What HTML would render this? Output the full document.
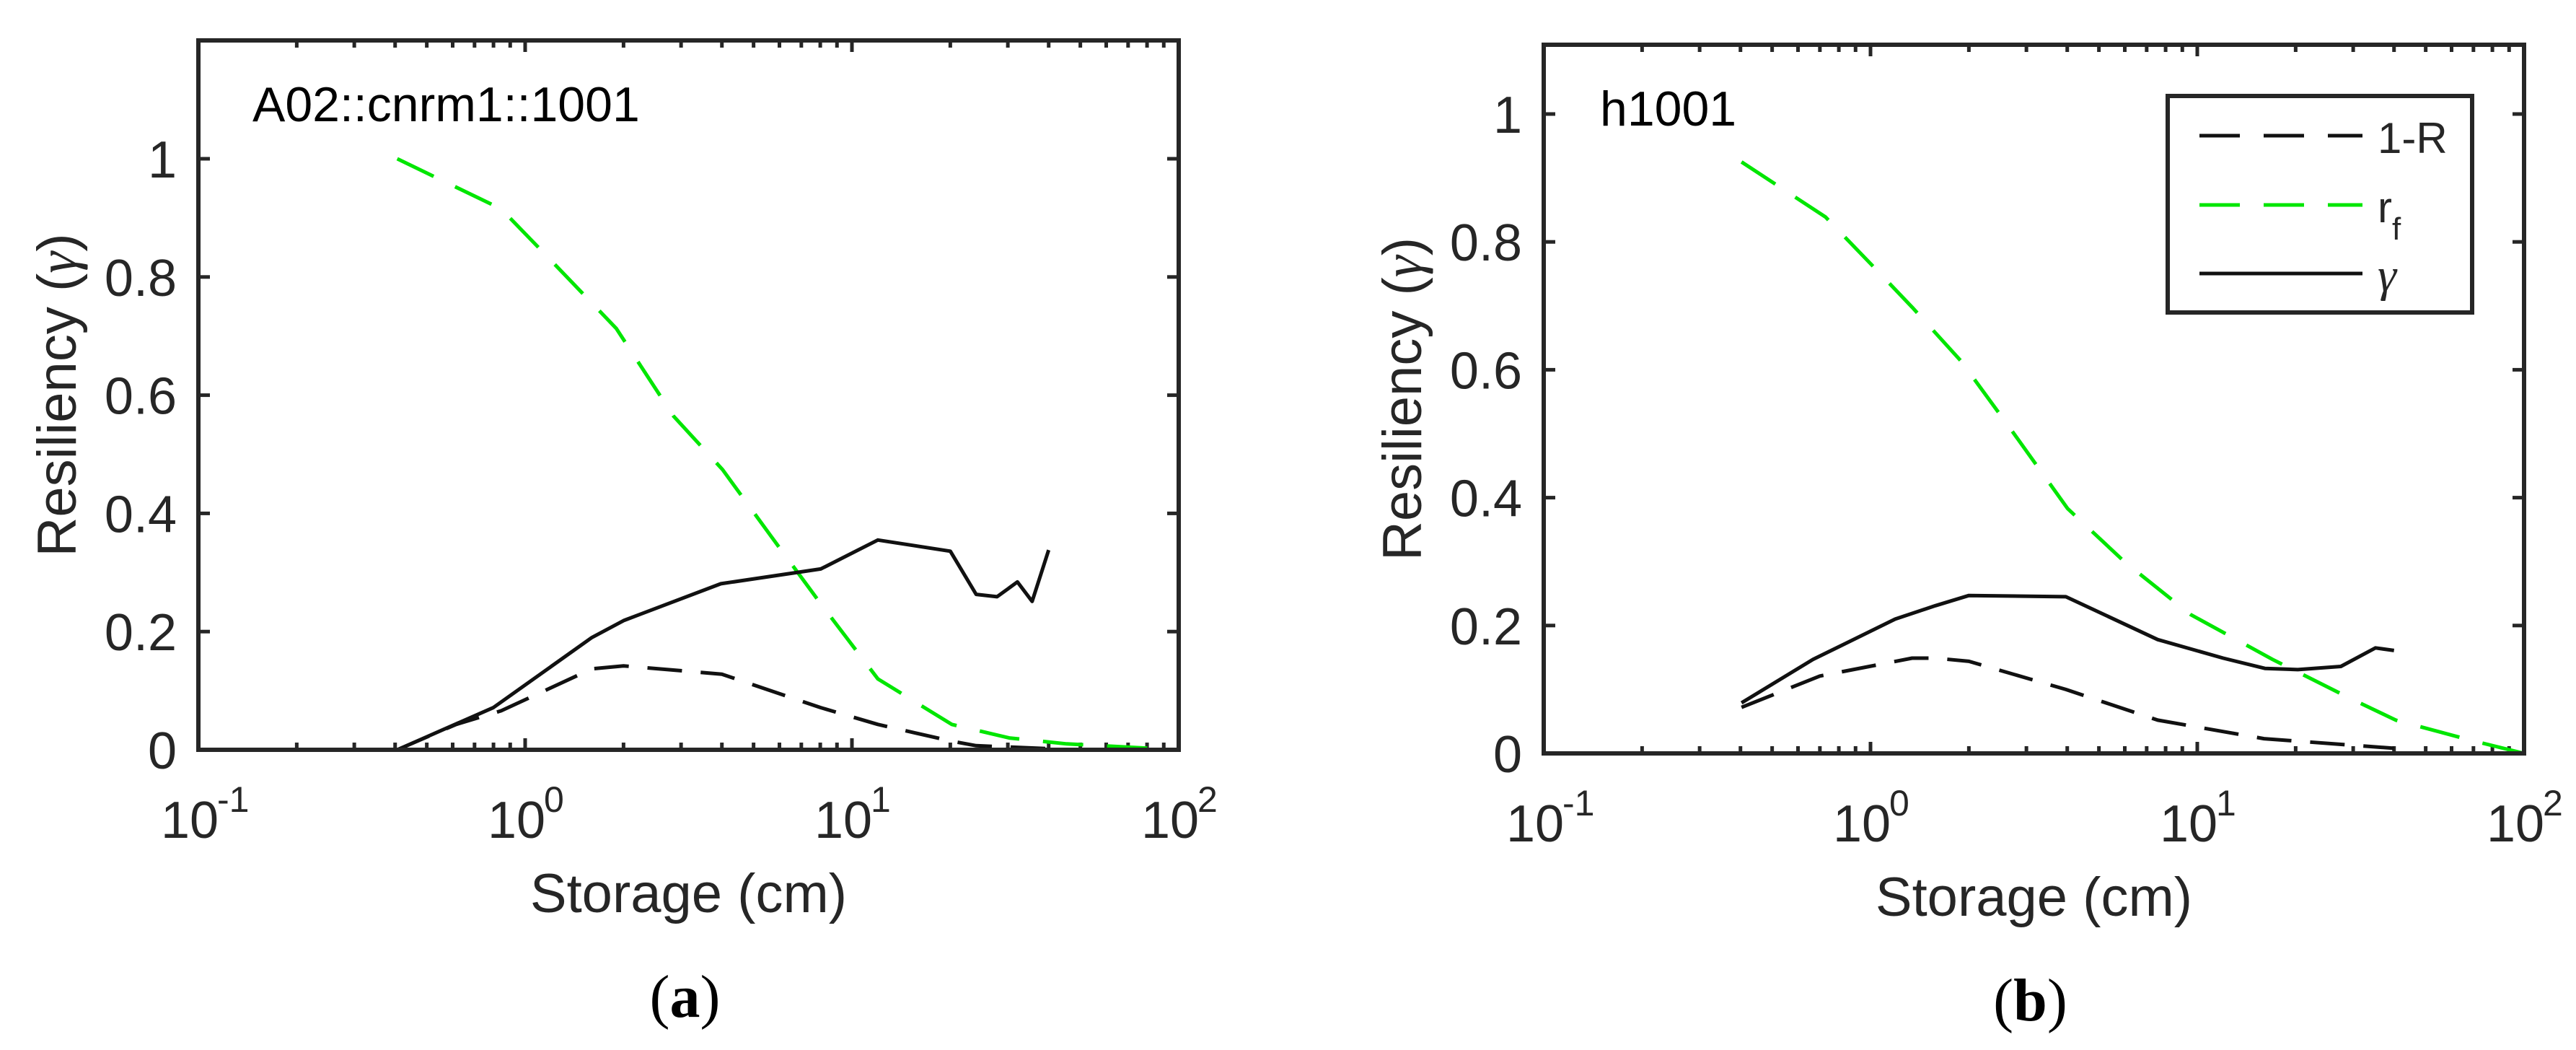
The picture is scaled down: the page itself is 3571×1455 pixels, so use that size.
<!DOCTYPE html>
<html><head><meta charset="utf-8">
<style>
html,body{margin:0;padding:0;background:#fff;}
svg{display:block;}
text{font-family:"Liberation Sans",sans-serif;fill:#262626;}
</style></head>
<body>
<svg id="fig" width="3571" height="1455" viewBox="0 0 3571 1455" xmlns="http://www.w3.org/2000/svg"></svg>
<script>
// ---- Panel (a) data ----
const aRfX = [0.406, 0.845, 1.13, 1.90, 2.84, 4.02, 5.68, 8.03, 12.0, 20.2, 30.3, 45.4, 100];
const aRfY = [1.0, 0.915, 0.843, 0.713, 0.565, 0.474, 0.36, 0.247, 0.12, 0.043, 0.02, 0.01, 0.0];
const aGamX = [0.406, 0.80, 1.60, 2.01, 3.97, 8.03, 12.0, 20.0, 24.0, 27.8, 32.1, 35.6, 40.0];
const aGamY = [0.0, 0.0715, 0.19, 0.219, 0.281, 0.306, 0.355, 0.336, 0.263, 0.259, 0.284, 0.251, 0.338];
const aRX = [0.406, 0.615, 0.845, 1.6, 2.0, 4.0, 8.0, 12.0, 20.0, 24.0, 40.0];
const aRY = [0.0, 0.043, 0.066, 0.137, 0.142, 0.128, 0.0715, 0.043, 0.015, 0.007, 0.002];
// ---- Panel (b) data ----
const bRfX = [0.403, 0.728, 1.0, 1.34, 1.89, 2.67, 4.01, 6.01, 9.55, 17.0, 28.6, 40.5, 68.2, 100];
const bRfY = [0.925, 0.839, 0.766, 0.698, 0.614, 0.509, 0.383, 0.299, 0.217, 0.147, 0.089, 0.052, 0.021, 0.0];
const bGamX = [0.403, 0.667, 1.19, 1.58, 2.0, 3.96, 7.57, 12.0, 16.1, 20.3, 27.5, 35.1, 40.0];
const bGamY = [0.079, 0.147, 0.21, 0.231, 0.247, 0.245, 0.178, 0.149, 0.133, 0.131, 0.136, 0.165, 0.161];
const bRX = [0.403, 0.70, 1.34, 1.58, 2.0, 3.96, 7.57, 16.0, 40.0];
const bRY = [0.072, 0.121, 0.149, 0.149, 0.144, 0.10, 0.052, 0.023, 0.008];
// ---- ticks ----
const yTicks = [0, 0.2, 0.4, 0.6, 0.8, 1];
const yTickLabels = ["0", "0.2", "0.4", "0.6", "0.8", "1"];
const xDecades = [-1, 0, 1, 2];

const NS = "http://www.w3.org/2000/svg";
const svg = document.getElementById("fig");
function mk(tag, attrs, parent) {
  const e = document.createElementNS(NS, tag);
  for (const k in attrs) e.setAttribute(k, attrs[k]);
  (parent || svg).appendChild(e);
  return e;
}

function panel(p) {
  const g = mk("g", {});
  
  
  const xs = v => p.L + (Math.log10(v) + 1) / 3 * (p.R - p.L);
  const ys = v => p.B - v * p.unit;
  const top = p.T;
  // ticks
  const tk = mk("g", {stroke: "#262626", "stroke-width": 5}, g);
  
  
  for (const d of xDecades) {
    for (let m = 1; m <= 9; m++) {
      const v = m * Math.pow(10, d);
      if (d === 2 && m > 1) break;
      const x = xs(v);
      const len = m === 1 ? 16 : 10;
      mk("line", {x1: x, y1: p.B, x2: x, y2: p.B - len}, tk);
      mk("line", {x1: x, y1: top, x2: x, y2: top + len}, tk);
    }
  }
  yTicks.forEach(v => {
    const y = ys(v);
    mk("line", {x1: p.L, y1: y, x2: p.L + 16, y2: y}, tk);
    mk("line", {x1: p.R, y1: y, x2: p.R - 16, y2: y}, tk);
  });
  // tick labels
  yTicks.forEach((v, i) => {
    const t = mk("text", {x: p.L - 30, y: ys(v) + 26, "text-anchor": "end", "font-size": 72}, g);
    t.textContent = yTickLabels[i];
    
    
  });
  xDecades.forEach(d => {
    const x = xs(Math.pow(10, d));
    const t = mk("text", {x: x - 12, y: p.B + 122, "text-anchor": "middle", "font-size": 72}, g);
    t.textContent = "10";
    
    
    const s = mk("text", {x: x + 26, y: p.B + 86, "text-anchor": "start", "font-size": 50}, g);
    s.textContent = d < 0 ? "-1" : String(d);
    
    
  });
  // series
  function series(X, Y, color, dash, name) {
    const pts = X.map((x, i) => xs(x).toFixed(1) + "," + ys(Y[i]).toFixed(1)).join(" ");
    const l = mk("polyline", {points: pts, fill: "none", stroke: color, "stroke-width": 5, "stroke-linejoin": "round"}, g);
    if (dash) l.setAttribute("stroke-dasharray", dash);
    
    
  }
  series(p.rfX, p.rfY, "#00e600", "56 33", "rf-line");
  series(p.rX, p.rY, "#111", "48 26", "one-minus-r-line");
  series(p.gX, p.gY, "#111", null, "gamma-line");
  // axes box
  const box = mk("rect", {x: p.L, y: top, width: p.R - p.L, height: p.B - top, fill: "none", stroke: "#262626", "stroke-width": 6}, g);
  
  
  // title in plot
  const tt = mk("text", {x: p.titleX, y: p.titleY, "font-size": 68, style: "fill:#000"}, g);
  tt.textContent = p.title;
  
  
  // axis labels
  const xl = mk("text", {x: (p.L + p.R) / 2, y: p.B + 225, "text-anchor": "middle", "font-size": 76}, g);
  xl.textContent = "Storage (cm)";
  
  
  const cy = (top + p.B) / 2;
  const yl = mk("text", {x: p.ylx, y: cy, "text-anchor": "middle", "font-size": 76, transform: "rotate(-90 " + p.ylx + " " + cy + ")"}, g);
  yl.innerHTML = 'Resiliency (<tspan font-family="Liberation Serif" font-style="italic">γ</tspan>)';
  
  
  const pl = mk("text", {x: (p.L + p.R) / 2 - 5, y: p.B + 370, "text-anchor": "middle", "font-size": 84, style: "font-family:'Liberation Serif',serif;fill:#000"}, g);
  pl.innerHTML = '(<tspan font-weight="bold">' + p.letter + '</tspan>)';
  
  
  return {xs, ys, g};
}

panel({name: "panel-a", L: 275, R: 1634, T: 56, B: 1039, unit: 819,
  rfX: aRfX, rfY: aRfY, gX: aGamX, gY: aGamY, rX: aRX, rY: aRY,
  title: "A02::cnrm1::1001", titleX: 350, titleY: 168, ylx: 105, letter: "a"});
const pb = panel({name: "panel-b", L: 2140, R: 3499, T: 62, B: 1044, unit: 886,
  rfX: bRfX, rfY: bRfY, gX: bGamX, gY: bGamY, rX: bRX, rY: bRY,
  title: "h1001", titleX: 2218, titleY: 174, ylx: 1970, letter: "b"});

// legend
const lg = mk("g", {});


const lb = mk("rect", {x: 3005, y: 133, width: 422, height: 300, fill: "#fff", stroke: "#262626", "stroke-width": 6}, lg);


const entries = [
  {y: 188, color: "#111", dash: "56 33", label: "1-R", name: "legend-entry-1-r"},
  {y: 284, color: "#00e600", dash: "56 33", label: "rf", name: "legend-entry-rf"},
  {y: 379, color: "#111", dash: null, label: "γ", name: "legend-entry-gamma"}
];
entries.forEach(e => {
  const l = mk("line", {x1: 3049, y1: e.y, x2: 3275, y2: e.y, stroke: e.color, "stroke-width": 5}, lg);
  if (e.dash) l.setAttribute("stroke-dasharray", e.dash);
  
  
  const t = mk("text", {x: 3296, y: e.y + 24, "font-size": 60}, lg);
  if (e.label === "rf") t.innerHTML = 'r<tspan font-size="44" dy="24">f</tspan>';
  else if (e.label === "γ") { t.setAttribute("style", "font-family:'Liberation Serif',serif;font-style:italic;fill:#262626"); t.setAttribute("font-size", "66"); t.textContent = "γ"; }
  else t.textContent = e.label;
  
  
});
</script>
</body></html>
